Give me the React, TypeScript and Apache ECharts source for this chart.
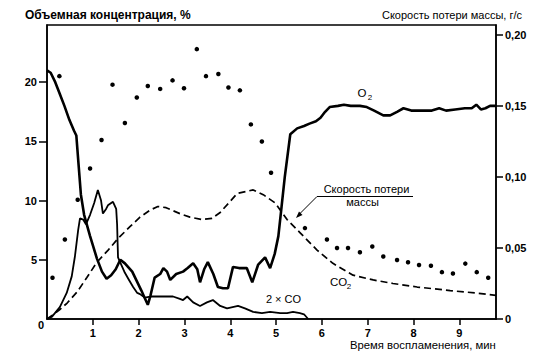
import React, { useEffect, useRef } from "react";
import * as echarts from "echarts";

const FONT = "'Liberation Sans', Arial, sans-serif";

// time, min
const o2Time = [0, 0.08, 0.18, 0.28, 0.38, 0.49, 0.59, 0.64, 0.69, 0.74, 0.81, 0.94, 1.09, 1.2, 1.3, 1.4, 1.5, 1.6, 1.7, 1.86, 1.96, 2.06, 2.13, 2.2, 2.26, 2.35, 2.47, 2.54, 2.62, 2.69, 2.82, 2.97, 3.07, 3.19, 3.28, 3.34, 3.43, 3.51, 3.63, 3.73, 3.84, 3.95, 4.06, 4.19, 4.36, 4.48, 4.61, 4.76, 4.87, 4.97, 5.05, 5.12, 5.19, 5.31, 5.46, 5.61, 5.73, 5.87, 5.97, 6.07, 6.17, 6.35, 6.48, 6.63, 6.83, 6.98, 7.14, 7.34, 7.49, 7.64, 7.78, 7.95, 8.1, 8.4, 8.56, 8.71, 8.91, 9.12, 9.27, 9.37, 9.47, 9.57, 9.67, 9.8];
// O2, %
const o2Values = [21.0, 20.8, 20.0, 19.0, 18.0, 16.8, 15.9, 15.5, 13.0, 10.5, 8.8, 7.0, 5.1, 4.0, 3.4, 3.7, 4.2, 5.0, 4.7, 4.0, 3.2, 2.4, 1.8, 1.2, 2.0, 3.5, 3.8, 4.3, 4.0, 3.3, 3.8, 4.0, 4.3, 4.7, 4.2, 3.1, 4.2, 4.8, 3.8, 2.7, 2.6, 2.6, 4.4, 4.3, 4.3, 3.1, 4.6, 5.2, 4.3, 5.5, 7.0, 9.5, 12.0, 15.6, 16.1, 16.3, 16.5, 16.7, 17.0, 17.5, 17.9, 18.0, 18.1, 18.0, 18.0, 17.9, 17.6, 17.2, 17.2, 17.5, 17.8, 17.6, 17.6, 17.6, 17.8, 17.6, 17.7, 17.8, 17.8, 18.1, 17.7, 17.8, 18.0, 18.0];

const coTime = [0, 0.11, 0.28, 0.43, 0.54, 0.61, 0.68, 0.72, 0.79, 0.85, 0.94, 1.03, 1.11, 1.18, 1.22, 1.29, 1.33, 1.44, 1.51, 1.53, 1.55, 1.62, 1.7, 1.79, 1.88, 1.97, 2.03, 2.14, 2.25, 2.47, 2.75, 2.9, 2.97, 3.06, 3.19, 3.34, 3.49, 3.62, 3.78, 3.93, 4.17, 4.32, 4.5, 4.69, 4.87, 5.09, 5.24, 5.37, 5.52, 5.61, 5.7];
// 2 x CO, %
const coValues = [0, 0.2, 1.0, 2.2, 3.6, 5.3, 7.5, 8.5, 8.4, 8.0, 8.8, 9.8, 10.9, 10.0, 8.9, 9.3, 9.6, 9.9, 9.3, 8.0, 5.2, 4.6, 3.9, 3.3, 2.7, 2.2, 2.1, 1.8, 1.9, 1.9, 1.9, 1.7, 1.6, 1.9, 1.4, 1.1, 1.4, 1.6, 1.1, 0.9, 1.1, 0.9, 0.6, 0.5, 0.6, 0.5, 0.5, 0.6, 0.5, 0.4, 0];

const co2Time = [0, 0.11, 0.28, 0.44, 0.66, 0.87, 1.09, 1.33, 1.55, 1.81, 2.03, 2.25, 2.42, 2.6, 2.9, 3.12, 3.38, 3.6, 3.78, 3.99, 4.15, 4.5, 4.72, 4.98, 5.24, 5.52, 5.9, 6.24, 6.68, 7.12, 7.55, 8.08, 8.8, 9.34, 9.8];
// CO2, %
const co2Values = [0, 0.3, 0.8, 1.35, 2.3, 3.5, 4.8, 5.8, 6.8, 7.8, 8.6, 9.2, 9.5, 9.4, 8.9, 8.6, 8.4, 8.5, 9.0, 9.9, 10.6, 10.9, 10.5, 9.8, 8.4, 7.3, 5.8, 4.7, 3.7, 3.3, 3.0, 2.7, 2.4, 2.2, 2.0];

const rateTime = [0.12, 0.27, 0.39, 0.67, 0.94, 1.19, 1.43, 1.7, 1.96, 2.2, 2.47, 2.74, 2.99, 3.27, 3.47, 3.74, 3.96, 4.21, 4.45, 4.69, 4.89, 5.63, 6.11, 6.33, 6.57, 6.83, 7.1, 7.34, 7.64, 7.88, 8.12, 8.38, 8.62, 8.86, 9.13, 9.38, 9.63];
// mass loss rate, g/s
const rateValues = [0.029, 0.171, 0.056, 0.084, 0.106, 0.126, 0.165, 0.138, 0.156, 0.164, 0.162, 0.168, 0.1625, 0.19, 0.171, 0.1725, 0.163, 0.161, 0.137, 0.125, 0.103, 0.064, 0.056, 0.05, 0.05, 0.047, 0.051, 0.044, 0.0415, 0.04, 0.038, 0.0375, 0.033, 0.032, 0.039, 0.033, 0.029];

const xTicks = [1, 2, 3, 4, 5, 6, 7, 8, 9];
const leftTicks = [5, 10, 15, 20];
const rightTicks = [0, 0.05, 0.1, 0.15, 0.2];

const zip = (a: number[], b: number[]) => a.map((t, i) => [t, b[i]]);

const txt = (text: string, x: number, y: number, align: string, size = 11, extra: any = {}) => ({
  type: "text",
  x,
  y,
  silent: true,
  style: {
    text,
    fill: "#000",
    fontSize: size,
    fontFamily: FONT,
    textAlign: align,
    textVerticalAlign: "middle",
    ...extra,
  },
});

export default function App() {
  const ref = useRef<HTMLDivElement>(null);
  useEffect(() => {
    if (!ref.current) return;
    const chart = echarts.init(ref.current, undefined, { renderer: "svg" });
    const axisLine = { show: true, lineStyle: { color: "#000", width: 1.5 } };
    const labelBase = { color: "#000", fontSize: 11, fontFamily: FONT, fontWeight: "bold" };
    chart.setOption({
      animation: false,
      grid: {
        left: 47,
        right: 42,
        top: 25,
        bottom: 37,
        show: true,
        borderColor: "#000",
        borderWidth: 1.5,
        backgroundColor: "transparent",
      },
      xAxis: {
        type: "value",
        min: 0,
        max: 9.8,
        axisLine,
        axisTick: { show: true, length: 6, customValues: xTicks, lineStyle: { color: "#000", width: 1.5 } },
        axisLabel: { ...labelBase, customValues: xTicks, margin: 8 },
        splitLine: { show: false },
      },
      yAxis: [
        {
          type: "value",
          min: 0,
          max: 24.83,
          position: "left",
          axisLine,
          axisTick: { show: true, length: 8, customValues: leftTicks, lineStyle: { color: "#000", width: 1.5 } },
          axisLabel: { ...labelBase, customValues: leftTicks, margin: 10 },
          splitLine: { show: false },
        },
        {
          type: "value",
          min: 0,
          max: 0.207,
          position: "right",
          axisLine,
          axisTick: { show: true, length: 7, customValues: rightTicks, lineStyle: { color: "#000", width: 1.5 } },
          axisLabel: {
            ...labelBase,
            customValues: rightTicks,
            margin: 9,
            formatter: (v: number) => (v === 0 ? "0" : v.toFixed(2).replace(".", ",")),
          },
          splitLine: { show: false },
        },
      ],
      series: [
        {
          name: "O2",
          type: "line",
          yAxisIndex: 0,
          data: zip(o2Time, o2Values),
          showSymbol: false,
          lineStyle: { color: "#000", width: 2.6 },
          z: 3,
        },
        {
          name: "2 × CO",
          type: "line",
          yAxisIndex: 0,
          data: zip(coTime, coValues),
          showSymbol: false,
          lineStyle: { color: "#000", width: 1.8 },
          z: 3,
        },
        {
          name: "CO2",
          type: "line",
          yAxisIndex: 0,
          data: zip(co2Time, co2Values),
          showSymbol: false,
          lineStyle: { color: "#000", width: 1.7, type: [7, 4] },
          z: 3,
        },
        {
          name: "Скорость потери массы",
          type: "scatter",
          yAxisIndex: 1,
          data: zip(rateTime, rateValues),
          symbol: "circle",
          symbolSize: 4.5,
          itemStyle: { color: "#000", opacity: 1 },
          z: 4,
        },
      ],
      graphic: [
        txt("Объемная концентрация, %", 25, 15, "left", 12, { fontWeight: "bold" }),
        txt("Скорость потери массы, г/с", 522, 15, "right"),
        txt("Время воспламенения, мин", 350, 345, "left", 11.3),
        txt("0", 41, 325, "center", 11, { fontWeight: "bold" }),
        txt("O", 362, 93, "center", 11.5),
        txt("2", 370, 97, "center", 8),
        txt("CO", 338.5, 281.5, "center", 11.5),
        txt("2", 349, 286, "center", 8),
        txt("2 × CO", 283.5, 299, "center", 11),
        txt("Скорость потери", 366.5, 189, "center", 11),
        txt("массы", 362.5, 202, "center", 11),
        {
          type: "line",
          silent: true,
          shape: { x1: 317, y1: 196.5, x2: 413, y2: 196.5 },
          style: { stroke: "#000", lineWidth: 1 },
        },
        {
          type: "line",
          silent: true,
          shape: { x1: 317, y1: 196.5, x2: 299, y2: 214.5 },
          style: { stroke: "#000", lineWidth: 1 },
        },
        {
          type: "polygon",
          silent: true,
          shape: { points: [[296, 218], [302.5, 215], [299, 211.5]] },
          style: { fill: "#000" },
        },
      ],
    });
    return () => chart.dispose();
  }, []);
  return (
    <div
      ref={ref}
      style={{ position: "fixed", left: 0, top: 0, width: 538, height: 356, background: "#fff" }}
    />
  );
}
